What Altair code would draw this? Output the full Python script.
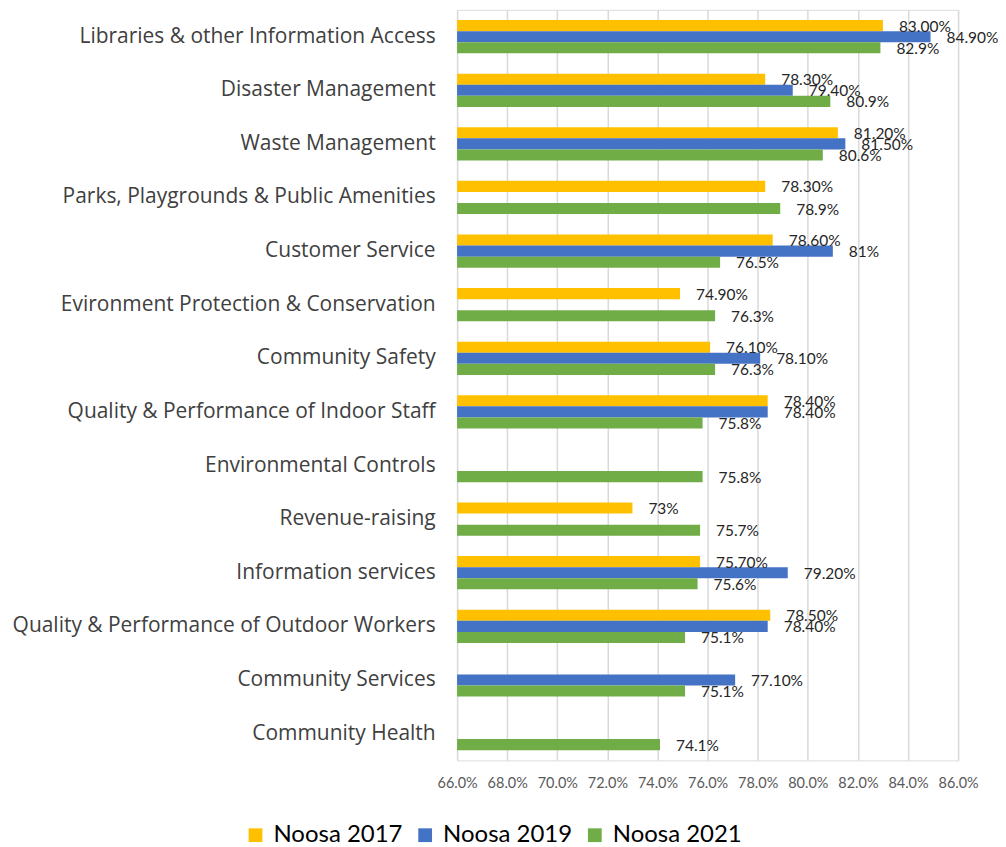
import altair as alt
import pandas as pd

categories = [
    "Libraries & other Information Access",
    "Disaster Management",
    "Waste Management",
    "Parks, Playgrounds & Public Amenities",
    "Customer Service",
    "Evironment Protection & Conservation",
    "Community Safety",
    "Quality & Performance of Indoor Staff",
    "Environmental Controls",
    "Revenue-raising",
    "Information services",
    "Quality & Performance of Outdoor Workers",
    "Community Services",
    "Community Health",
]
series = ["Noosa 2017", "Noosa 2019", "Noosa 2021"]
colors = ["#FFC000", "#4472C4", "#70AD47"]

noosa_2017 = [83.0, 78.3, 81.2, 78.3, 78.6, 74.9, 76.1, 78.4, None, 73.0, 75.7, 78.5, None, None]
labels_2017 = ["83.00%", "78.30%", "81.20%", "78.30%", "78.60%", "74.90%", "76.10%", "78.40%", None, "73%", "75.70%", "78.50%", None, None]
noosa_2019 = [84.9, 79.4, 81.5, None, 81.0, None, 78.1, 78.4, None, None, 79.2, 78.4, 77.1, None]
labels_2019 = ["84.90%", "79.40%", "81.50%", None, "81%", None, "78.10%", "78.40%", None, None, "79.20%", "78.40%", "77.10%", None]
noosa_2021 = [82.9, 80.9, 80.6, 78.9, 76.5, 76.3, 76.3, 75.8, 75.8, 75.7, 75.6, 75.1, 75.1, 74.1]
labels_2021 = ["82.9%", "80.9%", "80.6%", "78.9%", "76.5%", "76.3%", "76.3%", "75.8%", "75.8%", "75.7%", "75.6%", "75.1%", "75.1%", "74.1%"]

x_ticks = [66, 68, 70, 72, 74, 76, 78, 80, 82, 84, 86]

rows = []
for s, vals, labs in zip(series, [noosa_2017, noosa_2019, noosa_2021], [labels_2017, labels_2019, labels_2021]):
    for c, v, l in zip(categories, vals, labs):
        if v is not None:
            rows.append({"category": c, "series": s, "value": v, "label": l})
df = pd.DataFrame(rows)

FONT = "Lato"
CAT_FONT = "Open Sans"

y_enc = alt.Y(
    "category:N",
    sort=categories,
    scale=alt.Scale(domain=categories, paddingInner=0.38, paddingOuter=0.19),
    axis=alt.Axis(
        title=None, domain=False, ticks=False, labelFontSize=21, labelFont=CAT_FONT,
        labelColor="#404040", labelPadding=22, labelLimit=500, grid=False,
    ),
)
yoff = alt.YOffset(
    "series:N", sort=series,
    scale=alt.Scale(domain=series, paddingInner=0, paddingOuter=0),
)
color_enc = alt.Color(
    "series:N",
    scale=alt.Scale(domain=series, range=colors),
    legend=alt.Legend(
        title=None, orient="none", legendX=-214, legendY=815, direction="horizontal",
        columns=3, symbolType="square", symbolSize=190, symbolStrokeWidth=0,
        labelFontSize=24, labelFont=FONT, labelColor="#000000", columnPadding=10,
        labelOffset=6,
    ),
)

bars = alt.Chart(df).mark_bar(clip=False).encode(
    x=alt.X("value:Q", scale=alt.Scale(domain=[66, 86], nice=False)).axis(
        title=None, values=x_ticks, labelExpr="format(datum.value, '.1f') + '%'",
        domain=False, ticks=False, grid=True, gridColor="#D9D9D9", gridWidth=1.5,
        labelFontSize=14.5, labelFont=FONT, labelColor="#595959", labelPadding=16,
        labelOverlap=False, labelFlush=False,
    ),
    x2=alt.datum(66),
    y=y_enc,
    yOffset=yoff,
    color=color_enc,
)

text = alt.Chart(df).mark_text(
    align="left", baseline="middle", dx=16, dy=1, fontSize=15.5, font=FONT, color="#262626"
).encode(
    x=alt.X("value:Q"),
    y=alt.Y("category:N", sort=categories),
    yOffset=alt.YOffset("series:N", sort=series),
    text="label:N",
)

chart = alt.layer(bars, text).properties(
    width=502, height=752,
    autosize=alt.AutoSizeParams(type="none"),
    padding={"left": 450, "top": 1, "right": 40, "bottom": 110},
).configure_view(stroke=None).configure(background="white")

chart.save("out.html", embed_options={"renderer": "svg", "actions": False})
